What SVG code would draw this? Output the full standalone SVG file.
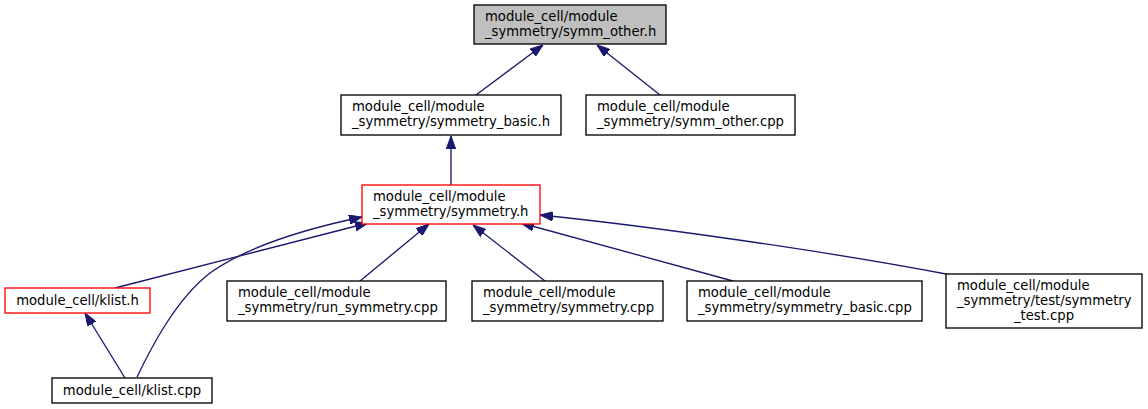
<svg xmlns="http://www.w3.org/2000/svg" width="1148" height="409" viewBox="0 0 1148 409">
<style>
  text { font-family: "DejaVu Sans", "Liberation Sans", sans-serif; font-size: 13.2px; fill: #000; }
  .c { text-anchor: middle; }
  .box { fill: #fff; stroke: #000; stroke-width: 1.33; }
  .root { fill: #bfbfbf; stroke: #000; stroke-width: 1.33; }
  .red { fill: #fff; stroke: #ff0000; stroke-width: 1.33; }
  .edge { fill: none; stroke: #191970; stroke-width: 1.33; marker-end: url(#ah); }
</style>
<defs>
  <marker id="ah" viewBox="0 0 13 9.4" refX="13" refY="4.7" markerWidth="13" markerHeight="9.4" markerUnits="userSpaceOnUse" orient="auto">
    <path d="M0,0 L13,4.7 L0,9.4 z" fill="#191970" stroke="#191970" stroke-width="1"/>
  </marker>
</defs>
<rect width="1148" height="409" fill="#fff"/>
<g id="edges">
  <path class="edge" d="M476,95 L543,45"/>
  <path class="edge" d="M660,95 L597,45"/>
  <path class="edge" d="M451,185 L451,136"/>
  <path class="edge" d="M115,288 L368,223"/>
  <path class="edge" d="M137,377 C150,350 175,300 210,273 C245,248 300,230 362,217"/>
  <path class="edge" d="M360,281 L429,224"/>
  <path class="edge" d="M545,281 L473,225"/>
  <path class="edge" d="M733,281 L521,223"/>
  <path class="edge" d="M946,274 C820,250 640,225 540,215"/>
  <path class="edge" d="M125,378 L85,313"/>
</g>
<g id="n_symm_other_h">
  <rect class="root" x="474" y="5" width="192" height="39"/>
  <text x="485" y="21">module_cell/module</text>
  <text x="485" y="36">_symmetry/symm_other.h</text>
</g>
<g id="n_symmetry_basic_h">
  <rect class="box" x="341" y="95" width="220" height="40"/>
  <text x="352" y="111">module_cell/module</text>
  <text x="352" y="126">_symmetry/symmetry_basic.h</text>
</g>
<g id="n_symm_other_cpp">
  <rect class="box" x="586" y="95" width="209" height="40"/>
  <text x="597" y="111">module_cell/module</text>
  <text x="597" y="126">_symmetry/symm_other.cpp</text>
</g>
<g id="n_symmetry_h">
  <rect class="red" x="362" y="185" width="178" height="39"/>
  <text x="373" y="201">module_cell/module</text>
  <text x="373" y="216">_symmetry/symmetry.h</text>
</g>
<g id="n_klist_h">
  <rect class="red" x="5" y="288" width="145" height="25"/>
  <text class="c" x="77.5" y="305">module_cell/klist.h</text>
</g>
<g id="n_run_symmetry_cpp">
  <rect class="box" x="227" y="281" width="219" height="40"/>
  <text x="238" y="297">module_cell/module</text>
  <text x="238" y="312">_symmetry/run_symmetry.cpp</text>
</g>
<g id="n_symmetry_cpp">
  <rect class="box" x="472" y="281" width="191" height="40"/>
  <text x="483" y="297">module_cell/module</text>
  <text x="483" y="312">_symmetry/symmetry.cpp</text>
</g>
<g id="n_symmetry_basic_cpp">
  <rect class="box" x="687" y="281" width="235" height="40"/>
  <text x="698" y="297">module_cell/module</text>
  <text x="698" y="312">_symmetry/symmetry_basic.cpp</text>
</g>
<g id="n_symmetry_test_cpp">
  <rect class="box" x="946" y="274" width="196" height="54"/>
  <text x="957" y="290">module_cell/module</text>
  <text x="957" y="305">_symmetry/test/symmetry</text>
  <text class="c" x="1044" y="320">_test.cpp</text>
</g>
<g id="n_klist_cpp">
  <rect class="box" x="52" y="378" width="160" height="25"/>
  <text class="c" x="132" y="395">module_cell/klist.cpp</text>
</g>
</svg>
